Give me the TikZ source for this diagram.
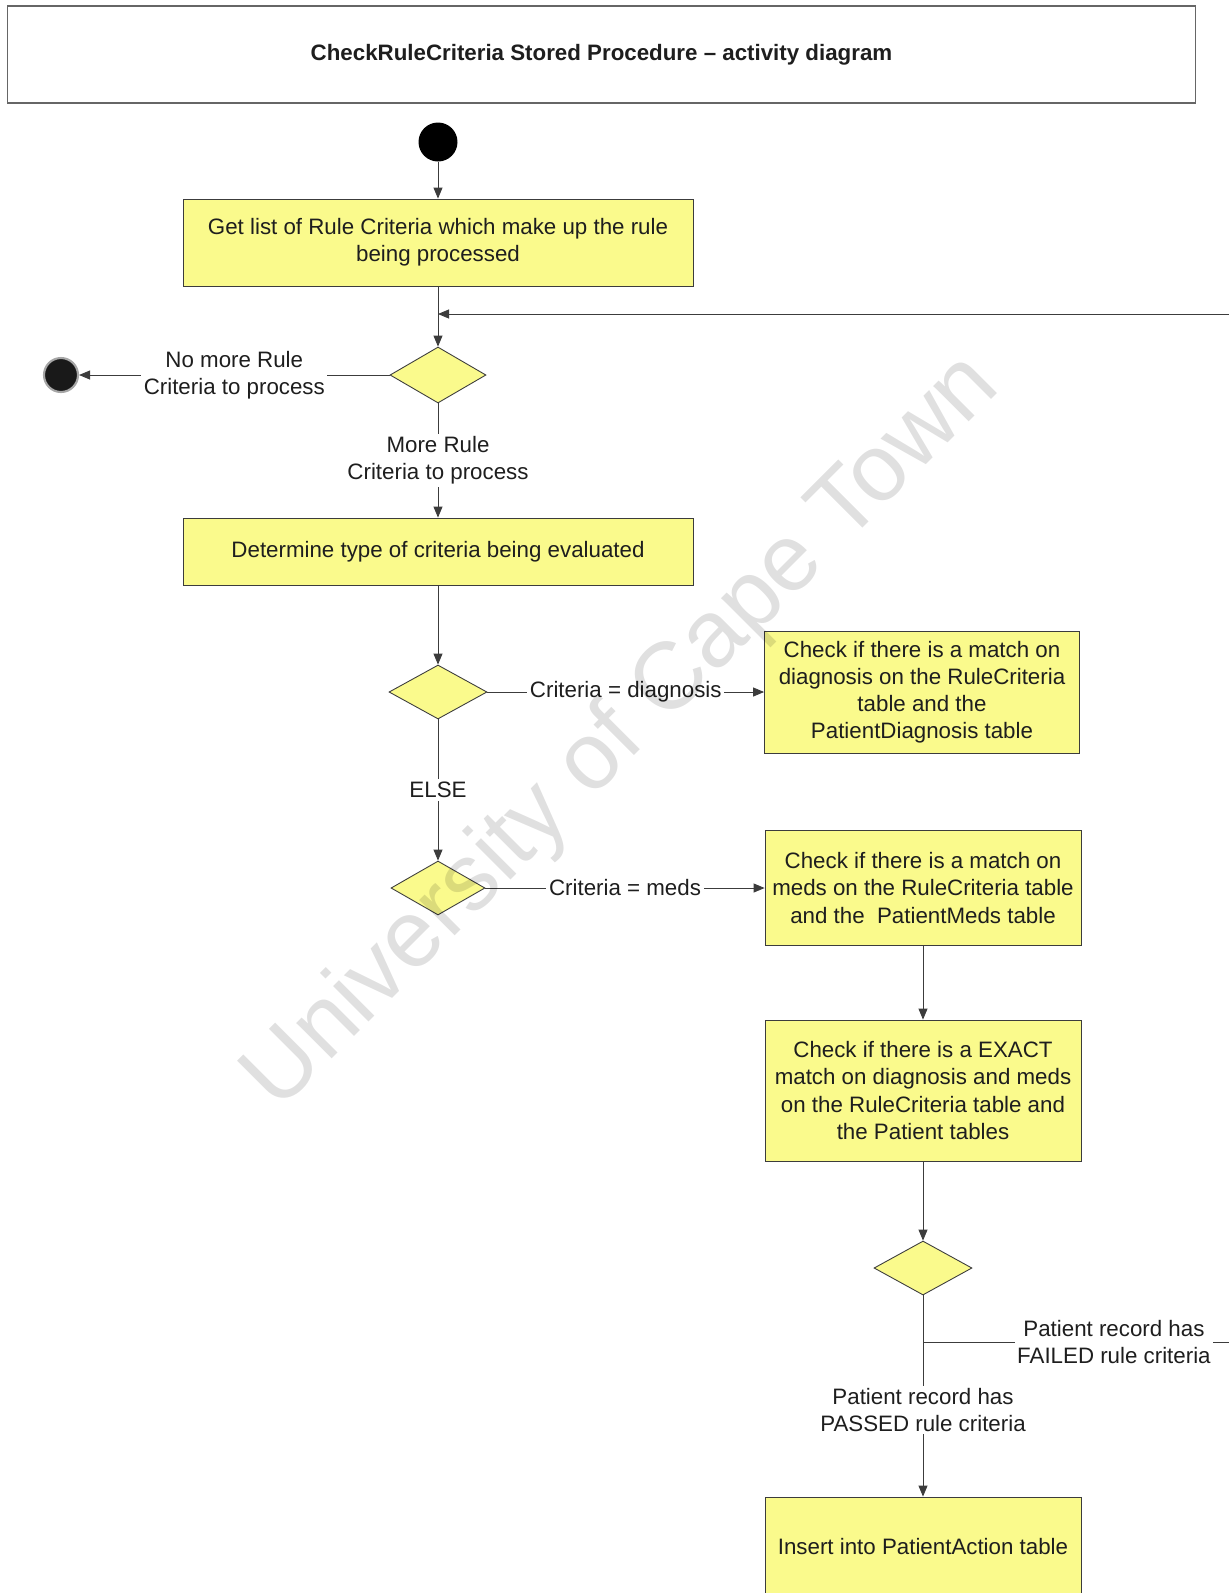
\documentclass[tikz,border=0pt]{standalone}
\usepackage{fontspec}
\setmainfont{Liberation Sans}
\usetikzlibrary{shapes.geometric,arrows.meta}
\definecolor{actfill}{RGB}{250,250,140}
\definecolor{ink}{RGB}{30,30,30}
\definecolor{wire}{RGB}{60,60,60}
\begin{document}
\begin{tikzpicture}[x=0.02cm,y=-0.02cm,
  every node/.style={font=\fontsize{12.7}{15.4}\selectfont, text=ink},
  activity/.style={draw=wire, fill=actfill, line width=0.5pt, align=center, inner sep=0pt},
  choice/.style={diamond, draw=wire, fill=actfill, line width=0.5pt, inner sep=0pt},
  guard/.style={fill=white, align=center, inner sep=1.5pt},
  flow/.style={draw=wire, line width=0.5pt, -{Triangle[length=2.2mm,width=1.8mm]}},
  link/.style={draw=wire, line width=0.5pt},
]
% page frame
\clip (0,0) rectangle (1229,1593);
\fill[white] (0,0) rectangle (1229,1593);

% heading
\node[draw=gray!80!black, line width=0.6pt, minimum width=23.78cm, minimum height=1.94cm]
  (title) at (601.5,54.5) {\bfseries CheckRuleCriteria Stored Procedure – activity diagram};

% start / end markers
\node[circle, fill=black, minimum size=0.78cm, inner sep=0pt] (start) at (438,142) {};
\node[circle, fill=black!90, draw=gray!70, line width=1.2pt, minimum size=0.68cm, inner sep=0pt] (stop) at (61,375) {};

% activities
\node[activity, minimum width=10.2cm, minimum height=1.74cm] (getlist) at (438,242.5)
  {Get list of Rule Criteria which make up the rule\\being processed};
\node[activity, minimum width=10.2cm, minimum height=1.34cm] (determine) at (438,551.5)
  {Determine type of criteria being evaluated};
\node[activity, minimum width=6.3cm, minimum height=2.44cm] (diagbox) at (922,692)
  {Check if there is a match on\\diagnosis on the RuleCriteria\\table and the\\PatientDiagnosis table};
\node[activity, minimum width=6.32cm, minimum height=2.3cm] (medsbox) at (923,888)
  {Check if there is a match on\\meds on the RuleCriteria table\\and the~ PatientMeds table};
\node[activity, minimum width=6.32cm, minimum height=2.82cm] (exactbox) at (923,1090.5)
  {Check if there is a EXACT\\match on diagnosis and meds\\on the RuleCriteria table and\\the Patient tables};
\node[activity, minimum width=6.32cm, minimum height=2.0cm] (insert) at (923,1547)
  {Insert into PatientAction table};

% decisions
\node[choice, minimum width=1.92cm, minimum height=1.12cm] (d1) at (438,375) {};
\node[choice, minimum width=1.96cm, minimum height=1.08cm] (d2) at (438,692) {};
\node[choice, minimum width=1.88cm, minimum height=1.08cm] (d3) at (438,888) {};
\node[choice, minimum width=1.96cm, minimum height=1.08cm] (d4) at (923,1268) {};

% loop re-entry and failure branch ends
\coordinate (loopback) at (1229,314);
\coordinate (rejoin) at (438,314);
\coordinate (fork) at (923,1342);
\coordinate (retry) at (1229,1342);

% flows
\draw[flow] (start) -- (getlist);
\draw[flow] (getlist) -- (d1);
\draw[flow] (loopback) -- (rejoin);
\draw[flow] (d1) -- node[guard] {No more Rule\\Criteria to process} (stop);
\draw[flow] (d1) -- node[guard] {More Rule\\Criteria to process} (determine);
\draw[flow] (determine) -- (d2);
\draw[flow] (d2) -- node[guard] {Criteria = diagnosis} (diagbox);
\draw[flow] (d2) -- node[guard] {ELSE} (d3);
\draw[flow] (d3) -- node[guard] {Criteria = meds} (medsbox);
\draw[flow] (medsbox) -- (exactbox);
\draw[flow] (exactbox) -- (d4);
\draw[flow] (d4) -- node[guard, pos=0.57] {Patient record has\\PASSED rule criteria} (insert);
\draw[link] (fork) -- node[guard, pos=0.624] {Patient record has\\FAILED rule criteria} (retry);

% watermark
\node[rotate=45, font=\fontsize{54}{62}\selectfont, text=black, text opacity=0.12]
  (watermark) at (623,733) {University of Cape Town};
\end{tikzpicture}
\end{document}
